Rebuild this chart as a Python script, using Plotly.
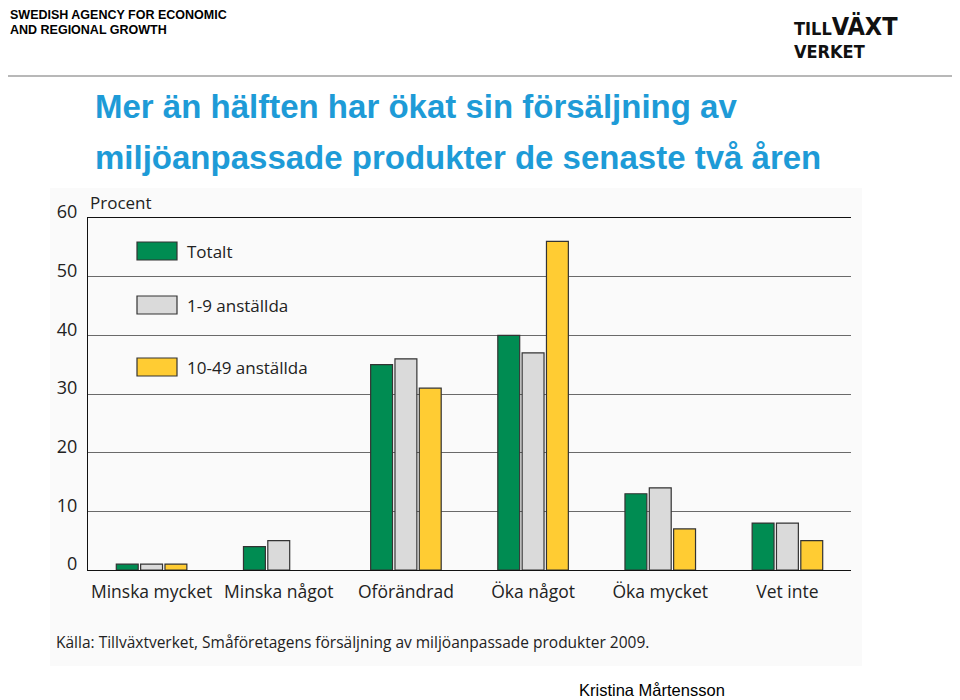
import plotly.graph_objects as go

categories = ["Minska mycket", "Minska något", "Oförändrad", "Öka något", "Öka mycket", "Vet inte"]
totalt = [1, 4, 35, 40, 13, 8]
sma = [1, 5, 36, 37, 14, 8]
medel = [1, None, 31, 56, 7, 5]
series_names = ["Totalt", "1-9 anställda", "10-49 anställda"]
series_colors = ["#008C52", "#DADADA", "#FFCC33"]
y_ticks = [0, 10, 20, 30, 40, 50, 60]

OFF = 8  # page body margin
W, H = 960 - OFF, 700 - OFF
SL, SR, ST, SB = 88, 851, 218, 570
L, R, T, B = SL - OFF, SR - OFF, ST - OFF, SB - OFF

def px(x):
    return (x - SL) / (SR - SL)

def py(y):
    return (SB - y) / (SB - ST)

chart_font = "Open Sans"

fig = go.Figure()
for name, vals, col in zip(series_names, [totalt, sma, medel], series_colors):
    fig.add_trace(go.Bar(
        x=categories, y=vals, name=name,
        marker=dict(color=col, line=dict(color="#333333", width=1.2)),
        showlegend=False,
    ))

shapes = []
shapes.append(dict(type="rect", xref="paper", yref="paper",
                   x0=px(50), x1=px(862), y0=py(666), y1=py(188),
                   fillcolor="#FAFAFA", line=dict(width=0), layer="below"))
shapes.append(dict(type="line", xref="paper", yref="paper",
                   x0=px(8), x1=px(956), y0=py(76), y1=py(76),
                   line=dict(color="#A0A0A0", width=1.5)))

annotations = []
leg_y = [251, 305, 367]
for name, col, yc in zip(series_names, series_colors, leg_y):
    shapes.append(dict(type="rect", xref="paper", yref="paper",
                       x0=px(137), x1=px(177), y0=py(yc + 9), y1=py(yc - 9),
                       fillcolor=col, line=dict(color="#333333", width=1.2)))
    annotations.append(dict(xref="paper", yref="paper", x=px(185), y=py(yc),
                            text=name, showarrow=False, xanchor="left", yanchor="middle",
                            font=dict(family=chart_font, size=17, color="#222222")))

annotations += [
    dict(xref="paper", yref="paper", x=px(88), y=py(203), text="Procent", showarrow=False,
         xanchor="left", yanchor="middle", font=dict(family=chart_font, size=17, color="#222222")),
    dict(xref="paper", yref="paper", x=px(54), y=py(642),
         text="Källa: Tillväxtverket, Småföretagens försäljning av miljöanpassade produkter 2009.",
         showarrow=False, xanchor="left", yanchor="middle",
         font=dict(family=chart_font, size=15.5, color="#222222")),
    dict(xref="paper", yref="paper", x=px(93), y=py(107),
         text="<b>Mer än hälften har ökat sin försäljning av</b>", showarrow=False,
         xanchor="left", yanchor="middle",
         font=dict(family="Liberation Sans, Arial", size=33, color="#1E9BD7")),
    dict(xref="paper", yref="paper", x=px(93), y=py(157),
         text="<b>miljöanpassade produkter de senaste två åren</b>", showarrow=False,
         xanchor="left", yanchor="middle",
         font=dict(family="Liberation Sans, Arial", size=33, color="#1E9BD7")),
    dict(xref="paper", yref="paper", x=px(8), y=py(15),
         text="<b>SWEDISH AGENCY FOR ECONOMIC</b>", showarrow=False,
         xanchor="left", yanchor="middle",
         font=dict(family="Liberation Sans, Arial", size=12.5, color="#000000")),
    dict(xref="paper", yref="paper", x=px(8), y=py(30),
         text="<b>AND REGIONAL GROWTH</b>", showarrow=False,
         xanchor="left", yanchor="middle",
         font=dict(family="Liberation Sans, Arial", size=12.5, color="#000000")),
    dict(xref="paper", yref="paper", x=px(792), y=py(9),
         text="<b>TILL<span style='font-size:25px'>VÄXT</span><br>VERKET</b>", showarrow=False,
         xanchor="left", yanchor="top", align="left",
         font=dict(family="DejaVu Sans Condensed, DejaVu Sans", size=18, color="#111111")),
    dict(xref="paper", yref="paper", x=px(577), y=py(690),
         text="Kristina Mårtensson", showarrow=False,
         xanchor="left", yanchor="middle",
         font=dict(family="Liberation Sans, Arial", size=16.5, color="#000000")),
]

fig.update_layout(
    width=W, height=H, autosize=False,
    margin=dict(l=L, r=W - R, t=T, b=H - B, pad=0),
    paper_bgcolor="white", plot_bgcolor="rgba(0,0,0,0)",
    barmode="group", bargap=0.426, bargroupgap=0.1,
    shapes=shapes, annotations=annotations,
    xaxis=dict(showline=True, mirror=True, linecolor="#111111", linewidth=1.3,
               showgrid=False, ticks="", tickfont=dict(family=chart_font, size=17.5, color="#222222"),
               ticklabelstandoff=6, fixedrange=True),
    yaxis=dict(range=[0, 60], tickvals=y_ticks, showline=True, linecolor="#111111", linewidth=1.3,
               showgrid=True, gridcolor="#6A6A6A", gridwidth=1.3, zeroline=False, ticks="",
               tickfont=dict(family=chart_font, size=18, color="#222222"),
               ticklabelstandoff=6, ticklabelshift=-6, fixedrange=True),
)

fig.write_html("out.html")
